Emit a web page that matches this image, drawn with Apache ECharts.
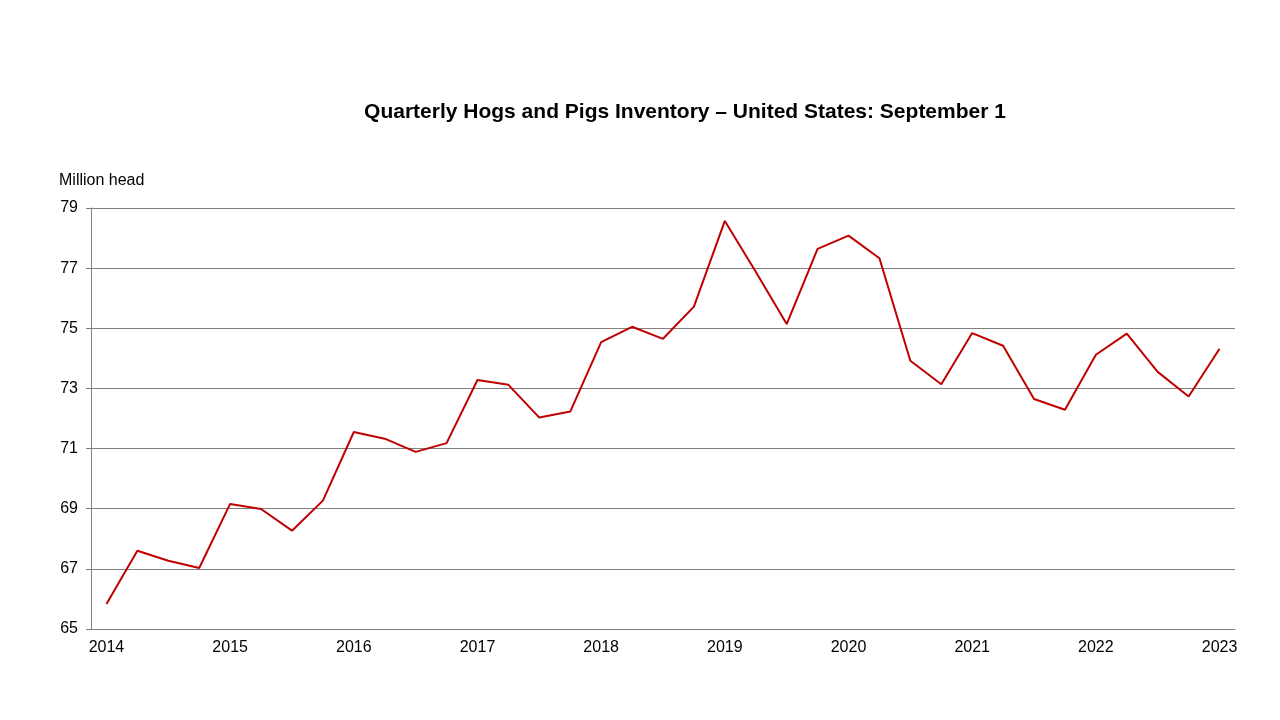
<!DOCTYPE html>
<html>
<head>
<meta charset="utf-8">
<script src="https://cdn.jsdelivr.net/npm/echarts@6/dist/echarts.min.js"></script>
<style>
  html, body { margin: 0; padding: 0; background: #fff; }
  #chart { width: 1280px; height: 720px; }
</style>
</head>
<body>
<div id="chart"></div>
<script>
// quarters from 2014 Q1 to 2023 Q1
const quarters = [
  '2014 Q1', '2014 Q2', '2014 Q3', '2014 Q4',
  '2015 Q1', '2015 Q2', '2015 Q3', '2015 Q4',
  '2016 Q1', '2016 Q2', '2016 Q3', '2016 Q4',
  '2017 Q1', '2017 Q2', '2017 Q3', '2017 Q4',
  '2018 Q1', '2018 Q2', '2018 Q3', '2018 Q4',
  '2019 Q1', '2019 Q2', '2019 Q3', '2019 Q4',
  '2020 Q1', '2020 Q2', '2020 Q3', '2020 Q4',
  '2021 Q1', '2021 Q2', '2021 Q3', '2021 Q4',
  '2022 Q1', '2022 Q2', '2022 Q3', '2022 Q4',
  '2023 Q1'
];
// million head
const inventory = [
  65.83, 67.60, 67.27, 67.03,
  69.16, 68.99, 68.27, 69.27,
  71.55, 71.33, 70.89, 71.18,
  73.28, 73.12, 72.03, 72.23,
  74.54, 75.05, 74.65, 75.72,
  78.57, 76.88, 75.14, 77.64,
  78.08, 77.33, 73.92, 73.14,
  74.84, 74.42, 72.65, 72.29,
  74.12, 74.82, 73.55, 72.73,
  74.32
];
const yTicks = { min: 65, max: 79, step: 2 };

const chart = echarts.init(document.getElementById('chart'));
const font = '"Liberation Sans", Arial, sans-serif';

chart.setOption({
  animation: false,
  backgroundColor: '#fff',
  title: [
    {
      text: 'Quarterly Hogs and Pigs Inventory \u2013 United States: September 1',
      left: 680,
      textAlign: 'center',
      top: 97,
      textStyle: { fontFamily: font, fontSize: 21, fontWeight: 'bold', color: '#000' }
    },
    {
      text: 'Million head',
      left: 54,
      top: 168,
      textStyle: { fontFamily: font, fontSize: 16, fontWeight: 'normal', color: '#000' }
    }
  ],
  grid: { left: 91, right: 45, top: 208, bottom: 91, containLabel: false },
  xAxis: {
    type: 'category',
    data: quarters,
    boundaryGap: true,
    axisLine: { lineStyle: { color: '#808080', width: 1 } },
    axisTick: { interval: 0, alignWithLabel: true, length: 5, lineStyle: { color: '#808080' } },
    axisLabel: {
      interval: 3,
      margin: 11,
      color: '#000',
      fontFamily: font,
      fontSize: 16,
      formatter: v => v.split(' ')[0]
    },
    splitLine: { show: false }
  },
  yAxis: {
    type: 'value',
    min: yTicks.min,
    max: yTicks.max,
    interval: yTicks.step,
    axisLine: { show: true, lineStyle: { color: '#808080', width: 1 } },
    axisTick: { show: true, length: 5, lineStyle: { color: '#808080' } },
    axisLabel: { margin: 13, color: '#000', fontFamily: font, fontSize: 16 },
    splitLine: { lineStyle: { color: '#808080', width: 1 } }
  },
  series: [
    {
      name: 'Inventory',
      type: 'line',
      data: inventory,
      symbol: 'none',
      lineStyle: { color: '#c00000', width: 2 },
      itemStyle: { color: '#c00000' }
    }
  ]
});
</script>
</body>
</html>
